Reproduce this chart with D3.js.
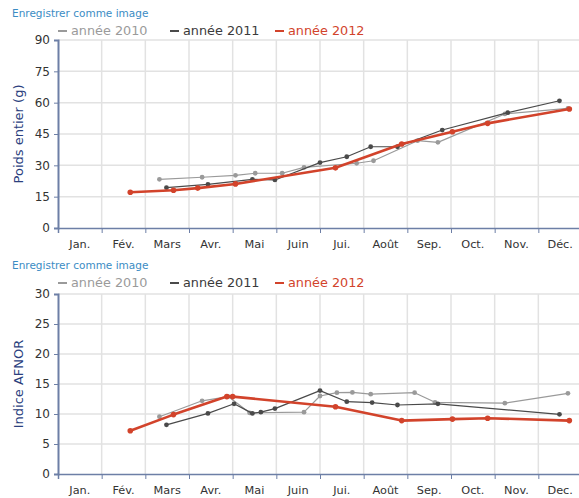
<!DOCTYPE html>
<html>
<head>
<meta charset="utf-8">
<script src="https://cdn.jsdelivr.net/npm/d3@7"></script>
<style>
  body { margin: 0; background: #fff; }
  svg { display: block; font-family: "DejaVu Sans", Verdana, sans-serif; }
</style>
</head>
<body>
<svg id="chart" width="579" height="498"></svg>
<script>
// Month labels on the x axis (one band per month)
const months = ["Jan.", "Fév.", "Mars", "Avr.", "Mai", "Juin", "Jui.", "Août", "Sep.", "Oct.", "Nov.", "Déc."];
const monthsBottom = ["Jan.", "Fév.", "Mars", "Avr.", "Mai", "Juin", "Jui.", "Août", "Sep.", "Oct.", "Nov.", "Dec."];

const seriesNames = ["année 2010", "année 2011", "année 2012"];

// Sampling dates ("MM-DD") and whole weight (g)
const poids2010 = [
  ["03-11", 23.3], ["04-10", 24.3], ["05-03", 25.2], ["05-17", 26.2], ["06-05", 26.2],
  ["06-20", 29.0], ["07-27", 31.0], ["08-08", 32.2], ["09-08", 41.8], ["09-22", 41.0],
  ["11-08", 54.6], ["12-22", 57.3]
];
const poids2011 = [
  ["03-16", 19.3], ["04-14", 20.9], ["05-15", 23.3], ["05-31", 23.0], ["07-01", 31.3],
  ["07-20", 34.1], ["08-06", 38.9], ["08-25", 38.9], ["09-25", 46.9], ["11-10", 55.2],
  ["12-16", 60.9]
];
const poids2012 = [
  ["02-20", 17.1], ["03-21", 18.1], ["04-07", 19.1], ["05-03", 21.1], ["07-12", 28.8],
  ["08-28", 40.2], ["10-02", 46.1], ["10-27", 50.1], ["12-23", 57.0]
];

// Sampling dates ("MM-DD") and AFNOR index
const afnor2010 = [
  ["03-11", 9.55], ["04-10", 12.2], ["04-28", 12.9], ["05-13", 10.2], ["06-20", 10.3],
  ["07-01", 13.0], ["07-13", 13.55], ["07-24", 13.6], ["08-06", 13.3], ["09-06", 13.55],
  ["09-20", 11.95], ["11-08", 11.8], ["12-22", 13.45]
];
const afnor2011 = [
  ["03-16", 8.2], ["04-14", 10.1], ["05-02", 11.7], ["05-15", 10.1], ["05-21", 10.3],
  ["05-31", 10.9], ["07-01", 13.9], ["07-20", 12.05], ["08-07", 11.9], ["08-25", 11.5],
  ["09-22", 11.7], ["12-16", 9.95]
];
const afnor2012 = [
  ["02-20", 7.2], ["03-21", 9.9], ["04-27", 12.9], ["05-01", 12.9], ["07-12", 11.2],
  ["08-28", 8.9], ["10-02", 9.15], ["10-27", 9.3], ["12-23", 8.9]
];

const poidsTicks = [0, 15, 30, 45, 60, 75, 90];
const afnorTicks = [0, 5, 10, 15, 20, 25, 30];

const colors = ["#9a9a9a", "#4a4a4a", "#d2432b"];
const textColors = ["#9a9a9a", "#3a3a3a", "#d2432b"];
const widths = [1.2, 1.2, 2.6];
const radii = [2.4, 2.4, 2.8];

const daysInMonth = [31, 29, 31, 30, 31, 30, 31, 31, 30, 31, 30, 31];
// "MM-DD" -> position in months from the start of January
function monthPos(s) {
  const [m, d] = s.split("-").map(Number);
  return (m - 1) + (d - 1) / daysInMonth[m - 1];
}

const svg = d3.select("#chart");
const left = 58, right = 582;
const x = d3.scaleLinear().domain([0, 12]).range([left, right]);

function drawPanel(opts) {
  const { top, bottom, yMax, ticks, title, labels, data, linkY, legendY } = opts;
  const y = d3.scaleLinear().domain([0, yMax]).range([bottom, top]);
  const g = svg.append("g");

  g.append("text")
    .attr("x", 12).attr("y", linkY)
    .attr("fill", "#3b8cc4").attr("font-size", 10.5)
    .text("Enregistrer comme image");

  // legend
  const legendX = [58, 170, 275];
  seriesNames.forEach((name, i) => {
    const lg = g.append("g").attr("transform", `translate(${legendX[i]},${legendY})`);
    lg.append("line").attr("x1", 0).attr("x2", 9).attr("y1", -4).attr("y2", -4)
      .attr("stroke", colors[i]).attr("stroke-width", 2);
    lg.append("text").attr("x", 13).attr("y", 0)
      .attr("font-size", 12.8).attr("fill", textColors[i])
      .text(name);
  });

  // grid
  g.append("g").selectAll("line.h").data(ticks.filter(t => t > 0)).join("line")
    .attr("x1", left).attr("x2", 579).attr("y1", d => y(d)).attr("y2", d => y(d))
    .attr("stroke", "#e2e2e2").attr("stroke-width", 1.5);
  g.append("g").selectAll("line.v").data(d3.range(1, 12)).join("line")
    .attr("x1", d => x(d)).attr("x2", d => x(d)).attr("y1", top).attr("y2", bottom)
    .attr("stroke", "#e2e2e2").attr("stroke-width", 1.5);

  // y axis
  const yAxis = g.append("g").attr("transform", `translate(${left},0)`)
    .call(d3.axisLeft(y).tickValues(ticks).tickSize(4).tickPadding(4));
  yAxis.select(".domain").attr("stroke", "#6d7fa6").attr("stroke-width", 2);
  yAxis.selectAll(".tick line").attr("stroke", "#6d7fa6");
  yAxis.selectAll("text").attr("font-size", 12).attr("fill", "#333")
    .attr("font-family", "DejaVu Sans, Verdana, sans-serif");

  // x axis with labels centred in each month band
  const xAxis = g.append("g").attr("transform", `translate(0,${bottom})`)
    .call(d3.axisBottom(x).tickValues(d3.range(0, 12)).tickSize(5).tickFormat(""));
  xAxis.select(".domain").attr("stroke", "#6d7fa6").attr("stroke-width", 1.5);
  xAxis.selectAll(".tick line").attr("stroke", "#6d7fa6");
  g.append("g").selectAll("text").data(labels).join("text")
    .attr("x", (d, i) => x(i + 0.5)).attr("y", bottom + 20)
    .attr("text-anchor", "middle").attr("font-size", 11.3).attr("fill", "#333")
    .text(d => d);

  // y title
  g.append("text")
    .attr("transform", `translate(23,${(top + bottom) / 2}) rotate(-90)`)
    .attr("text-anchor", "middle").attr("font-size", 13).attr("fill", "#2b3f7e")
    .text(title);

  const line = d3.line().x(d => x(monthPos(d[0]))).y(d => y(d[1]));
  data.forEach((series, i) => {
    g.append("path").datum(series)
      .attr("fill", "none").attr("stroke", colors[i]).attr("stroke-width", widths[i])
      .attr("stroke-linejoin", "round").attr("d", line);
    g.append("g").selectAll("circle").data(series).join("circle")
      .attr("cx", d => x(monthPos(d[0]))).attr("cy", d => y(d[1]))
      .attr("r", radii[i]).attr("fill", colors[i]);
  });
}

drawPanel({
  top: 40, bottom: 228, yMax: 90, ticks: poidsTicks, title: "Poids entier (g)",
  labels: months, data: [poids2010, poids2011, poids2012], linkY: 17, legendY: 35
});
drawPanel({
  top: 294, bottom: 474, yMax: 30, ticks: afnorTicks, title: "Indice AFNOR",
  labels: monthsBottom, data: [afnor2010, afnor2011, afnor2012], linkY: 269, legendY: 287
});
</script>
</body>
</html>
